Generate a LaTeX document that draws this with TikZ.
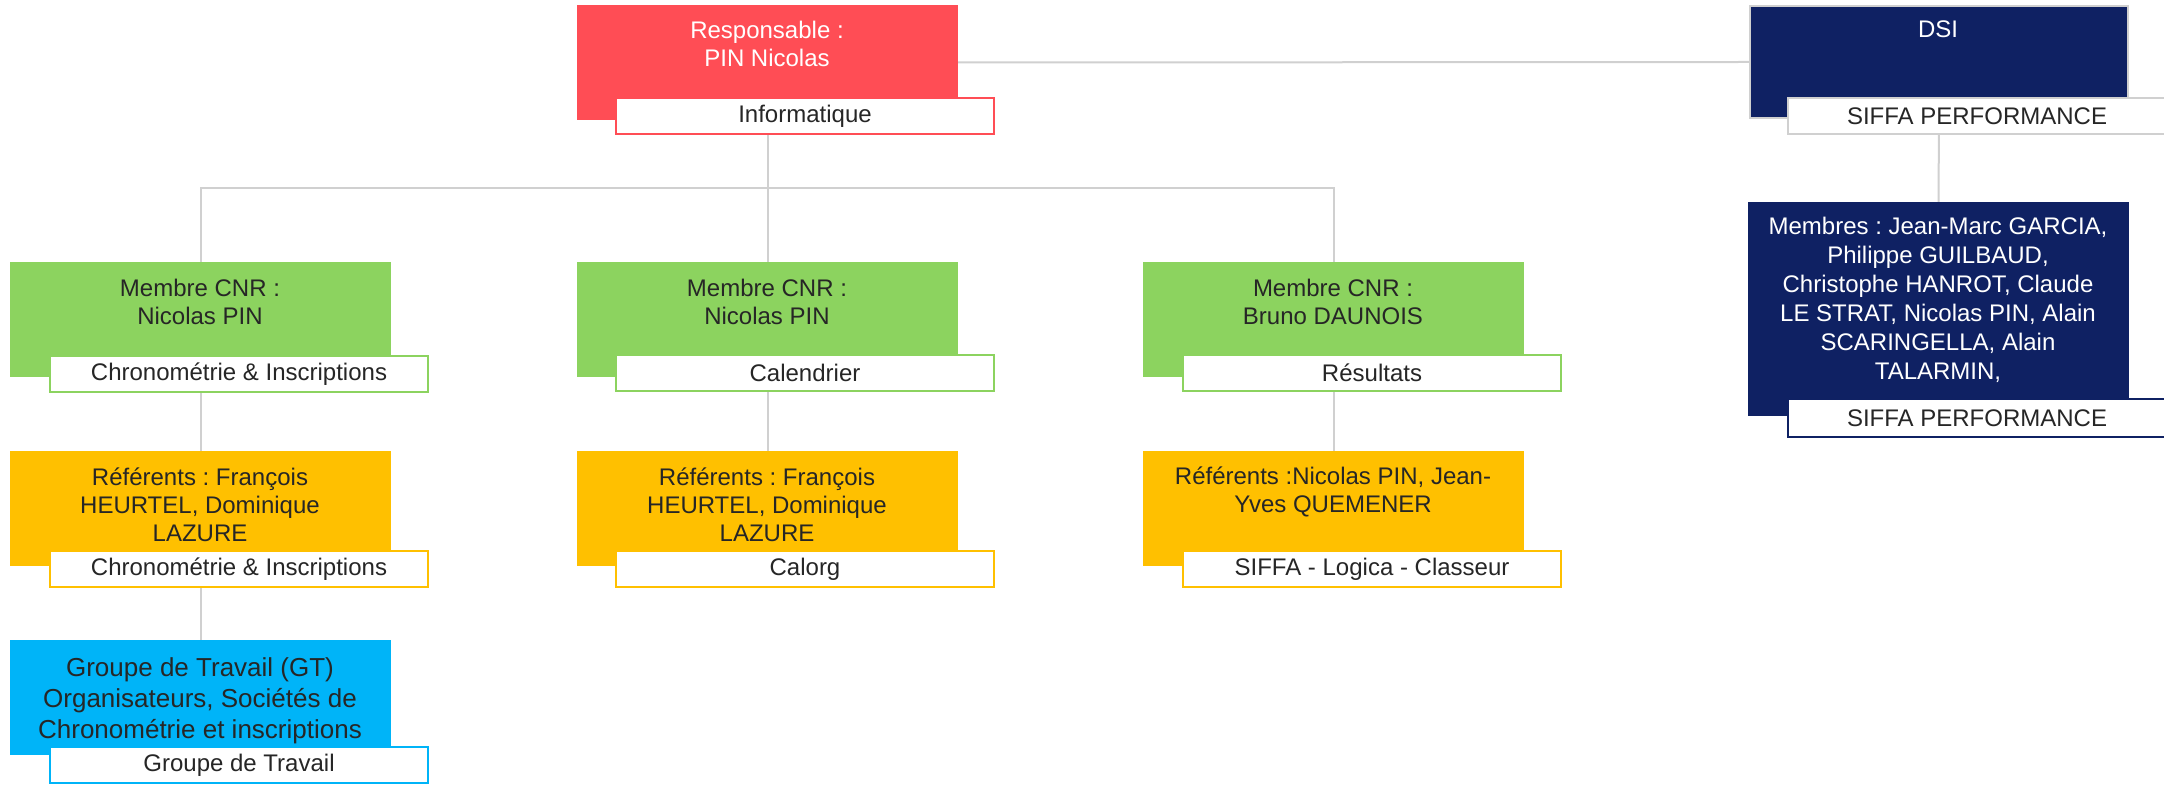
\documentclass[tikz,border=0pt]{standalone}
\usepackage{fontspec}
\setmainfont{Liberation Sans}
\frenchspacing
\definecolor{cred}{HTML}{FF4D55}
\definecolor{cgreen}{HTML}{8CD35F}
\definecolor{cyell}{HTML}{FFC000}
\definecolor{cblue}{HTML}{00B4F8}
\definecolor{cnavy}{HTML}{0F2163}
\definecolor{cline}{HTML}{D0D0D0}
\definecolor{ctext}{HTML}{262626}
\begin{document}
\begin{tikzpicture}[x=0.5pt,y=-0.5pt,
  bigbox/.style={rectangle, anchor=north west, inner sep=0pt, outer sep=0pt, minimum width=190.5pt, minimum height=57.5pt},
  labbox/.style={rectangle, anchor=north west, inner sep=0pt, outer sep=0pt, fill=white, line width=1.3pt, minimum width=189pt, minimum height=18pt, text=ctext, font=\fontsize{12}{14}\selectfont\frenchspacing},
  txt/.style={anchor=base, align=center, inner sep=0pt, text=ctext, font=\fontsize{12}{14.2}\selectfont\frenchspacing},
  conn/.style={draw=cline, line width=1pt}]
\useasboundingbox (0,0) rectangle (2164,785);
% boxes
\node[bigbox, fill=cred] (red) at (577,5) {};
\node[bigbox, fill=cnavy, draw=cline, line width=1pt, minimum width=189pt, minimum height=56pt] (dsi) at (1750,6) {};
\node[bigbox, fill=cnavy, minimum height=107pt] (navy) at (1748,202) {};
\node[bigbox, fill=cgreen] (g1) at (10,262) {};
\node[bigbox, fill=cgreen] (g2) at (577,262) {};
\node[bigbox, fill=cgreen] (g3) at (1143,262) {};
\node[bigbox, fill=cyell] (y1) at (10,451) {};
\node[bigbox, fill=cyell] (y2) at (577,451) {};
\node[bigbox, fill=cyell] (y3) at (1143,451) {};
\node[bigbox, fill=cblue] (b1) at (10,640) {};
% connectors
\coordinate (bus) at (0,188);
\draw[conn] (red.east) -- (dsi.west);
\draw[conn] (red.south) -- (red.south |- bus);
\draw[conn] (g1.north) -- (g1.north |- bus) -- (g3.north |- bus) -- (g3.north);
\draw[conn] (red.south |- bus) -- (g2.north);
\draw[conn] (dsi.south) -- (navy.north);
\draw[conn] (g1.south) -- (y1.north);
\draw[conn] (g2.south) -- (y2.north);
\draw[conn] (g3.south) -- (y3.north);
\draw[conn] (y1.south) -- (b1.north);
% labels
\node[labbox, draw=cred] (redlab) at (616,98) {Informatique};
\node[labbox, draw=cline] (dsilab) at (1788,98) {SIFFA PERFORMANCE};
\node[labbox, draw=cnavy, minimum height=19pt] (navylab) at (1788,399) {SIFFA PERFORMANCE};
\node[labbox, draw=cgreen] (g1lab) at (50,356) {Chronométrie \& Inscriptions};
\node[labbox, draw=cgreen] (g2lab) at (616,355) {Calendrier};
\node[labbox, draw=cgreen] (g3lab) at (1183,355) {Résultats};
\node[labbox, draw=cyell] (y1lab) at (50,551) {Chronométrie \& Inscriptions};
\node[labbox, draw=cyell] (y2lab) at (616,551) {Calorg};
\node[labbox, draw=cyell] (y3lab) at (1183,551) {SIFFA - Logica - Classeur};
\node[labbox, draw=cblue] (b1lab) at (50,747) {Groupe de Travail};
% texts (anchor = baseline of last line)
\node[txt, text=white] (tred) at (767,67) {Responsable :\\PIN Nicolas};
\node[txt, text=white] (tdsi) at (1938,38) {DSI};
\node[txt, text=white, font=\fontsize{12}{14.5}\selectfont\frenchspacing] (tnavy) at (1938,380) {Membres : Jean-Marc GARCIA,\\Philippe GUILBAUD,\\Christophe HANROT, Claude\\LE STRAT, Nicolas PIN, Alain\\SCARINGELLA, Alain\\TALARMIN,};
\node[txt] (tg1) at (200,325) {Membre CNR :\\Nicolas PIN};
\node[txt] (tg2) at (767,325) {Membre CNR :\\Nicolas PIN};
\node[txt] (tg3) at (1333,325) {Membre CNR :\\Bruno DAUNOIS};
\node[txt] (ty1) at (200,542) {Référents : François\\HEURTEL, Dominique\\LAZURE};
\node[txt] (ty2) at (767,542) {Référents : François\\HEURTEL, Dominique\\LAZURE};
\node[txt] (ty3) at (1333,513) {Référents :Nicolas PIN, Jean-\\Yves QUEMENER};
\node[txt, font=\fontsize{13}{15.6}\selectfont\frenchspacing] (tb1) at (200,739) {Groupe de Travail (GT)\\Organisateurs, Sociétés de\\Chronométrie et inscriptions};
\end{tikzpicture}
\end{document}
